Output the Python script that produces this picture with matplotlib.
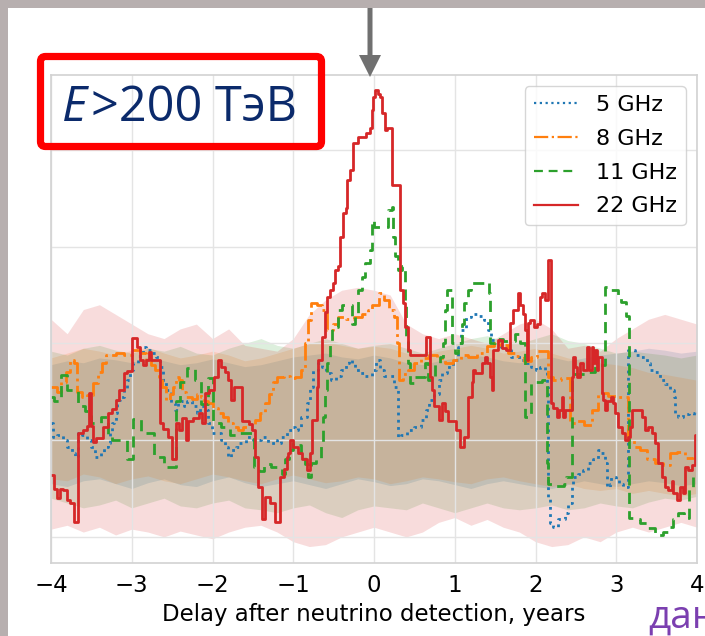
import matplotlib.pyplot as plt
from matplotlib.patches import Rectangle, FancyBboxPatch, FancyArrow
from matplotlib.transforms import Affine2D

# ---- data (delay in years, arbitrary response units) ----
labels = ["5 GHz", "8 GHz", "11 GHz", "22 GHz"]
colors = ["#1f77b4", "#ff7f0e", "#2ca02c", "#d62728"]

x5 = [-4.00, -3.98, -3.93, -3.85, -3.80, -3.74, -3.70, -3.67, -3.62, -3.55,
      -3.50, -3.46, -3.38, -3.34, -3.30, -3.27, -3.24, -3.22, -3.20, -3.18,
      -3.14, -3.10, -3.06, -3.02, -2.98, -2.92, -2.86, -2.82, -2.76, -2.70,
      -2.65, -2.61, -2.57, -2.52, -2.47, -2.43, -2.39, -2.35, -2.31, -2.25,
      -2.19, -2.15, -2.11, -2.07, -2.05, -2.01, -1.95, -1.89, -1.85, -1.81,
      -1.77, -1.71, -1.67, -1.59, -1.50, -1.40, -1.31, -1.23, -1.20, -1.15,
      -1.08, -1.02, -0.98, -0.94, -0.90, -0.83, -0.79, -0.75, -0.69, -0.65,
      -0.59, -0.53, -0.47, -0.41, -0.35, -0.31, -0.27, -0.23, -0.17, -0.11,
      -0.03, 0.03, 0.07, 0.13, 0.21, 0.25, 0.30, 0.33, 0.41, 0.49,
      0.58, 0.64, 0.68, 0.74, 0.80, 0.84, 0.90, 0.98, 1.04, 1.08,
      1.14, 1.20, 1.25, 1.30, 1.36, 1.41, 1.45, 1.51, 1.57, 1.63,
      1.70, 1.76, 1.82, 1.88, 1.94, 2.00, 2.06, 2.12, 2.14, 2.16,
      2.18, 2.22, 2.28, 2.36, 2.40, 2.45, 2.47, 2.53, 2.59, 2.65,
      2.71, 2.77, 2.81, 2.86, 2.88, 2.92, 2.94, 3.00, 3.04, 3.08,
      3.14, 3.15, 3.19, 3.23, 3.29, 3.38, 3.42, 3.48, 3.54, 3.60,
      3.67, 3.71, 3.73, 3.77, 3.83, 3.90, 3.96, 4.00]
y5 = [1.18, 1.03, 1.05, 1.00, 0.93, 0.87, 0.83, 1.07, 1.05, 1.00,
      0.93, 0.83, 0.88, 0.93, 0.97, 1.07, 1.18, 1.20, 1.28, 1.42,
      1.45, 1.52, 1.62, 1.73, 1.80, 1.87, 1.96, 1.93, 1.90, 1.86,
      1.76, 1.62, 1.52, 1.38, 1.31, 1.38, 1.40, 1.35, 1.40, 1.35,
      1.28, 1.35, 1.38, 1.31, 1.18, 1.07, 1.07, 1.00, 0.93, 0.83,
      0.90, 0.93, 0.97, 1.03, 1.00, 1.03, 0.97, 1.00, 0.97, 1.03,
      1.10, 1.14, 1.10, 1.14, 1.24, 1.38, 1.55, 1.73, 1.80, 1.76,
      1.69, 1.62, 1.66, 1.73, 1.80, 1.83, 1.80, 1.73, 1.69, 1.66,
      1.73, 1.83, 1.73, 1.66, 1.66, 1.55, 1.03, 1.05, 1.10, 1.14,
      1.21, 1.31, 1.41, 1.48, 1.62, 1.69, 1.76, 1.83, 1.96, 2.14,
      2.27, 2.30, 2.30, 2.28, 2.24, 2.14, 2.04, 2.02, 1.96, 1.93,
      1.86, 1.86, 1.83, 1.80, 1.76, 1.73, 1.76, 1.73, 1.55, 0.41,
      0.14, 0.10, 0.18, 0.25, 0.35, 0.52, 0.62, 0.65, 0.69, 0.76,
      0.80, 0.90, 0.87, 0.76, 0.52, 0.55, 0.62, 0.60, 0.55, 0.52,
      0.52, 1.93, 1.93, 1.88, 1.86, 1.80, 1.73, 1.70, 1.62, 1.58,
      1.52, 1.45, 1.28, 1.24, 1.27, 1.28, 1.26, 1.29]

x8 = [-4.00, -3.93, -3.88, -3.82, -3.77, -3.72, -3.68, -3.62, -3.55, -3.48,
      -3.42, -3.37, -3.32, -3.20, -3.10, -3.00, -2.90, -2.82, -2.76, -2.71,
      -2.66, -2.62, -2.58, -2.53, -2.49, -2.45, -2.42, -2.38, -2.33, -2.26,
      -2.19, -2.14, -2.10, -2.05, -1.99, -1.93, -1.87, -1.81, -1.74, -1.68,
      -1.62, -1.55, -1.47, -1.41, -1.35, -1.30, -1.25, -1.20, -1.12, -1.04,
      -0.98, -0.90, -0.86, -0.82, -0.78, -0.70, -0.64, -0.58, -0.51, -0.45,
      -0.35, -0.25, -0.15, -0.08, -0.03, 0.06, 0.12, 0.18, 0.25, 0.29,
      0.31, 0.36, 0.42, 0.50, 0.58, 0.68, 0.78, 0.88, 0.98, 1.08,
      1.16, 1.28, 1.40, 1.48, 1.56, 1.66, 1.76, 1.86, 1.95, 2.02,
      2.12, 2.16, 2.22, 2.32, 2.43, 2.52, 2.60, 2.70, 2.78, 2.90,
      3.02, 3.14, 3.22, 3.30, 3.38, 3.48, 3.58, 3.66, 3.75, 3.85,
      3.95]
y8 = [1.55, 1.50, 1.60, 1.70, 1.83, 1.80, 1.50, 1.45, 1.47, 1.59,
      1.70, 1.80, 1.88, 1.90, 1.88, 1.93, 1.90, 1.83, 1.78, 1.73,
      1.65, 1.55, 1.42, 1.48, 1.55, 1.65, 1.62, 1.50, 1.45, 1.43,
      1.48, 1.45, 1.40, 1.38, 1.33, 1.28, 1.24, 1.18, 1.14, 1.10,
      1.14, 1.17, 1.21, 1.28, 1.38, 1.48, 1.60, 1.65, 1.66, 1.64,
      1.65, 1.73, 2.00, 2.24, 2.42, 2.40, 2.35, 2.14, 2.20, 2.27,
      2.25, 2.27, 2.30, 2.35, 2.40, 2.52, 2.45, 2.35, 2.27, 2.00,
      1.62, 1.68, 1.73, 1.80, 1.85, 1.88, 1.85, 1.80, 1.83, 1.88,
      1.86, 1.90, 1.97, 2.00, 1.98, 1.90, 1.87, 1.82, 1.86, 1.92,
      1.92, 1.65, 1.62, 1.64, 1.18, 1.20, 1.16, 1.31, 1.49, 1.46,
      1.45, 1.00, 0.93, 0.90, 0.80, 0.76, 0.74, 0.87, 0.88, 0.82,
      0.83]

x11 = [-4.00, -3.96, -3.88, -3.80, -3.67, -3.58, -3.50, -3.38, -3.30, -3.24,
       -3.08, -3.06, -2.99, -2.88, -2.72, -2.60, -2.45, -2.40, -2.32, -2.22,
       -2.14, -2.06, -2.00, -1.90, -1.78, -1.66, -1.48, -1.42, -1.36, -1.28,
       -1.20, -1.14, -1.10, -1.05, -1.00, -0.94, -0.90, -0.86, -0.82, -0.78,
       -0.72, -0.66, -0.63, -0.61, -0.58, -0.55, -0.52, -0.45, -0.40, -0.27,
       -0.24, -0.20, -0.15, -0.11, -0.05, -0.03, 0.00, 0.17, 0.22, 0.24,
       0.26, 0.30, 0.35, 0.38, 0.40, 0.42, 0.45, 0.50, 0.63, 0.67,
       0.75, 0.82, 0.86, 0.88, 0.90, 0.96, 1.00, 1.04, 1.09, 1.12,
       1.16, 1.20, 1.40, 1.42, 1.44, 1.50, 1.60, 1.75, 1.81, 1.87,
       1.94, 2.08, 2.14, 2.16, 2.25, 2.35, 2.38, 2.45, 2.62, 2.74,
       2.86, 2.93, 3.02, 3.06, 3.12, 3.16, 3.22, 3.30, 3.38, 3.48,
       3.58, 3.66, 3.70, 3.76, 3.84, 3.90, 3.95]
y11 = [1.45, 1.40, 1.67, 1.52, 1.35, 1.30, 1.18, 1.24, 1.05, 1.00,
       1.00, 0.80, 1.22, 1.07, 0.83, 0.72, 1.40, 1.60, 1.75, 1.62,
       1.37, 1.64, 1.18, 1.14, 1.05, 1.07, 0.72, 0.68, 0.75, 0.72,
       0.70, 0.65, 0.80, 0.90, 0.97, 0.95, 0.85, 0.75, 0.62, 0.76,
       0.80, 0.97, 1.24, 1.52, 1.80, 2.00, 2.17, 2.35, 2.40, 2.20,
       2.30, 2.55, 2.69, 2.83, 2.97, 3.28, 3.20, 3.38, 3.41, 3.10,
       2.90, 2.76, 2.80, 2.42, 2.07, 1.80, 1.59, 1.65, 1.80, 1.62,
       1.80, 1.86, 2.00, 2.35, 2.55, 2.00, 1.90, 2.00, 2.20, 2.42,
       2.55, 2.62, 2.64, 2.52, 2.00, 2.05, 2.03, 2.10, 2.00, 1.24,
       1.60, 1.62, 0.76, 0.55, 0.53, 0.55, 0.62, 1.68, 1.70, 1.78,
       2.58, 2.55, 2.50, 2.43, 2.28, 0.20, 0.18, 0.14, 0.09, 0.02,
       0.05, 0.10, 0.18, 0.25, 0.20, 0.50, 0.62]

x22 = [-4.00, -3.96, -3.93, -3.89, -3.85, -3.80, -3.76, -3.71, -3.66, -3.60,
       -3.55, -3.53, -3.51, -3.48, -3.44, -3.35, -3.30, -3.24, -3.20, -3.16,
       -3.10, -3.06, -3.00, -2.93, -2.90, -2.86, -2.82, -2.79, -2.76, -2.65,
       -2.61, -2.55, -2.50, -2.45, -2.42, -2.38, -2.33, -2.30, -2.24, -2.17,
       -2.13, -2.09, -2.04, -1.98, -1.93, -1.89, -1.85, -1.81, -1.77, -1.73,
       -1.64, -1.55, -1.51, -1.47, -1.44, -1.39, -1.35, -1.29, -1.23, -1.16,
       -1.12, -1.08, -1.06, -1.04, -1.00, -0.94, -0.89, -0.83, -0.79, -0.77,
       -0.71, -0.69, -0.64, -0.61, -0.58, -0.55, -0.51, -0.48, -0.45, -0.42,
       -0.38, -0.35, -0.33, -0.30, -0.26, -0.20, -0.10, -0.05, -0.02, -0.01,
       0.01, 0.05, 0.07, 0.10, 0.14, 0.16, 0.22, 0.32, 0.36, 0.38,
       0.42, 0.45, 0.65, 0.69, 0.72, 0.74, 0.80, 0.84, 0.88, 0.92,
       1.02, 1.07, 1.12, 1.16, 1.21, 1.23, 1.25, 1.34, 1.37, 1.40,
       1.44, 1.46, 1.47, 1.54, 1.58, 1.63, 1.68, 1.72, 1.78, 1.81,
       1.85, 1.87, 1.89, 1.91, 1.93, 1.98, 2.02, 2.06, 2.08, 2.12,
       2.15, 2.19, 2.22, 2.27, 2.29, 2.33, 2.34, 2.36, 2.45, 2.46,
       2.49, 2.52, 2.55, 2.59, 2.64, 2.66, 2.70, 2.71, 2.74, 2.76,
       2.77, 2.82, 2.84, 2.86, 2.88, 2.93, 2.96, 2.98, 3.02, 3.07,
       3.11, 3.15, 3.17, 3.20, 3.32, 3.36, 3.39, 3.44, 3.48, 3.52,
       3.57, 3.60, 3.64, 3.69, 3.70, 3.75, 3.79, 3.83, 3.85, 3.89,
       3.94, 3.98, 4.00]
y22 = [0.64, 0.49, 0.40, 0.50, 0.48, 0.38, 0.35, 0.15, 1.07, 1.10,
       1.15, 1.49, 1.15, 0.98, 1.02, 1.14, 1.28, 1.32, 1.42, 1.52,
       1.69, 1.72, 2.06, 1.96, 1.83, 1.78, 1.83, 1.91, 1.83, 1.18,
       1.12, 1.03, 0.80, 1.18, 1.10, 1.23, 1.00, 1.20, 1.23, 1.28,
       1.18, 1.49, 1.52, 1.65, 1.83, 1.76, 1.70, 1.62, 1.42, 1.55,
       1.20, 1.17, 1.10, 0.83, 0.52, 0.18, 0.41, 0.35, 0.15, 0.62,
       0.70, 0.83, 0.87, 1.00, 0.93, 0.87, 0.80, 0.69, 0.87, 1.21,
       1.55, 1.83, 2.07, 2.32, 2.48, 2.55, 2.62, 2.76, 2.80, 3.10,
       3.35, 3.40, 3.69, 3.79, 4.07, 4.13, 4.18, 4.23, 4.41, 4.55,
       4.62, 4.58, 4.55, 4.38, 4.21, 4.23, 3.64, 2.55, 2.42, 2.17,
       1.93, 1.88, 2.07, 1.65, 1.52, 1.35, 1.21, 1.38, 1.30, 1.20,
       1.10, 0.93, 1.03, 1.45, 1.60, 1.73, 1.69, 1.80, 1.86, 1.80,
       1.65, 1.52, 1.93, 2.04, 1.95, 1.93, 2.21, 2.35, 2.52, 2.40,
       2.30, 2.14, 1.83, 2.21, 2.24, 2.17, 2.20, 2.48, 2.52, 2.45,
       2.86, 1.38, 1.33, 1.24, 1.31, 1.45, 1.24, 1.31, 1.65, 1.86,
       1.76, 1.65, 1.80, 1.73, 1.96, 1.73, 1.96, 1.80, 1.93, 1.73,
       1.86, 1.49, 1.42, 1.31, 1.40, 1.45, 1.38, 1.28, 1.14, 1.07,
       1.00, 1.03, 1.14, 1.31, 1.24, 1.10, 1.14, 1.07, 0.97, 0.76,
       0.62, 0.52, 0.48, 0.58, 0.45, 0.38, 0.52, 0.45, 0.72, 0.69,
       0.74, 1.05, 1.05]

# uncertainty bands, sampled every 0.2 yr
band_x = [-4.0, -3.8, -3.6, -3.4, -3.2, -3.0, -2.8, -2.6, -2.4, -2.2,
          -2.0, -1.8, -1.6, -1.4, -1.2, -1.0, -0.8, -0.6, -0.4, -0.2,
          0.0, 0.2, 0.4, 0.6, 0.8, 1.0, 1.2, 1.4, 1.6, 1.8,
          2.0, 2.2, 2.4, 2.6, 2.8, 3.0, 3.2, 3.4, 3.6, 3.8, 4.0]
lo5 = [0.55, 0.52, 0.58, 0.60, 0.55, 0.50, 0.56, 0.60, 0.54, 0.52,
       0.58, 0.62, 0.56, 0.52, 0.55, 0.58, 0.54, 0.50, 0.55, 0.60,
       0.57, 0.53, 0.55, 0.60, 0.58, 0.54, 0.50, 0.55, 0.58, 0.55,
       0.52, 0.50, 0.54, 0.58, 0.55, 0.52, 0.55, 0.58, 0.56, 0.53, 0.55]
hi5 = [1.78, 1.82, 1.80, 1.85, 1.83, 1.80, 1.86, 1.82, 1.78, 1.80,
       1.84, 1.80, 1.76, 1.78, 1.82, 1.86, 1.88, 1.90, 1.86, 1.84,
       1.88, 1.85, 1.80, 1.78, 1.82, 1.85, 1.88, 1.86, 1.82, 1.80,
       1.84, 1.86, 1.82, 1.85, 1.88, 1.90, 1.92, 1.95, 1.93, 1.90, 1.92]
lo8 = [0.60, 0.58, 0.65, 0.62, 0.55, 0.60, 0.63, 0.58, 0.55, 0.60,
       0.65, 0.62, 0.58, 0.55, 0.60, 0.64, 0.60, 0.56, 0.58, 0.62,
       0.60, 0.55, 0.58, 0.62, 0.60, 0.57, 0.55, 0.60, 0.62, 0.58,
       0.55, 0.52, 0.55, 0.50, 0.48, 0.50, 0.45, 0.48, 0.45, 0.42, 0.45]
hi8 = [1.85, 1.90, 1.95, 1.92, 1.88, 1.93, 1.96, 1.90, 1.85, 1.88,
       1.92, 1.88, 1.82, 1.85, 1.90, 1.95, 2.00, 2.02, 1.98, 1.95,
       1.97, 1.95, 1.90, 1.88, 1.92, 1.95, 1.98, 1.95, 1.90, 1.92,
       1.95, 1.90, 1.85, 1.82, 1.80, 1.78, 1.75, 1.70, 1.68, 1.65, 1.62]
lo11 = [0.40, 0.35, 0.30, 0.33, 0.38, 0.30, 0.35, 0.40, 0.32, 0.30,
        0.35, 0.38, 0.30, 0.28, 0.25, 0.30, 0.33, 0.25, 0.20, 0.28,
        0.32, 0.30, 0.28, 0.35, 0.30, 0.25, 0.30, 0.35, 0.30, 0.28,
        0.30, 0.33, 0.28, 0.30, 0.35, 0.32, 0.30, 0.36, 0.40, 0.38, 0.42]
hi11 = [1.92, 1.88, 1.95, 1.98, 1.93, 1.90, 1.95, 1.92, 1.97, 1.90,
        1.88, 1.95, 2.00, 2.05, 1.98, 1.95, 2.00, 2.05, 2.00, 1.95,
        1.98, 2.00, 1.95, 1.90, 1.95, 2.00, 2.05, 2.08, 2.03, 2.00,
        2.05, 2.10, 2.03, 2.00, 1.95, 1.90, 1.92, 1.90, 1.88, 1.85, 1.88]
lo22 = [0.08, 0.12, 0.05, 0.10, 0.02, 0.08, 0.05, 0.00, 0.06, 0.02,
        -0.02, 0.05, 0.10, 0.12, 0.05, -0.05, -0.10, -0.08, 0.00, 0.05,
        0.10, 0.05, 0.00, 0.05, 0.15, 0.20, 0.12, 0.18, 0.10, 0.05,
        -0.05, -0.10, -0.08, 0.00, -0.05, 0.05, 0.10, 0.05, 0.10, 0.15, 0.10]
hi22 = [2.25, 2.10, 2.35, 2.40, 2.30, 2.20, 2.10, 2.05, 2.15, 2.20,
        2.05, 2.15, 1.98, 1.95, 1.92, 2.05, 2.30, 2.45, 2.55, 2.58,
        2.55, 2.50, 2.20, 2.10, 2.05, 2.10, 2.05, 2.00, 2.10, 2.20,
        2.25, 2.15, 1.95, 1.98, 1.92, 2.05, 2.15, 2.25, 2.30, 2.25, 2.20]

xticks = [-4, -3, -2, -1, 0, 1, 2, 3, 4]

W, H = 705, 636
fig = plt.figure(figsize=(W / 100, H / 100), dpi=100)
fig.patch.set_facecolor("#b7afaf")
# pixel coordinates measured from the top-left corner
pix = Affine2D().scale(1 / W, -1 / H).translate(0, 1) + fig.transFigure
fig.add_artist(Rectangle((8, 8), W, H, transform=pix, facecolor="white",
                         edgecolor="none", zorder=0))

ax = fig.add_axes([51 / W, 1 - 563 / H, 646 / W, 488 / H])
ax.set_facecolor("white")

bands = [(lo5, hi5), (lo8, hi8), (lo11, hi11), (lo22, hi22)]
for (lo, hi), c in zip(bands, colors):
    ax.fill_between(band_x, lo, hi, color=c, alpha=0.16, linewidth=0)

series = [(x5, y5, (0, (1, 1.6))), (x8, y8, "-."), (x11, y11, (0, (4, 2.6))), (x22, y22, "-")]
for (xs, ys, ls), c, lab in zip(series, colors, labels):
    ax.plot(xs, ys, drawstyle="steps-post", linestyle=ls, color=c, lw=2.0, label=lab)

ax.set_xlim(-4, 4)
ax.set_ylim(-0.27, 4.775)
ax.set_xticks(xticks)
ax.set_xticklabels([str(t).replace("-", "\u2212") for t in xticks])
ax.set_yticks([0, 1, 2, 3, 4])
ax.set_yticklabels([])
ax.tick_params(length=0, labelsize=16.5, pad=8)
ax.grid(True, color="#e4e4e4", lw=1.0)
for s in ax.spines.values():
    s.set_color("#d2d2d2")
    s.set_linewidth(1.2)
ax.set_xlabel("Delay after neutrino detection, years", fontsize=16.5, labelpad=4)

leg = ax.legend(loc="upper right", fontsize=16, frameon=True, fancybox=True,
                borderaxespad=0.5, handlelength=2.0, labelspacing=0.62)
leg.get_frame().set_edgecolor("#cccccc")
for h in leg.get_lines():
    h.set_linewidth(1.6)

# red frame with the energy label
fig.add_artist(FancyBboxPatch((40.5, 56.5), 281, 90, boxstyle="round,pad=0,rounding_size=5",
                              transform=pix, facecolor="none", edgecolor="#ff0000", lw=5.2, zorder=5))
t1 = fig.text(62 / W, 1 - 121 / H, "E", style="italic", fontsize=35, color="#0b2a6b",
              family=["Open Sans", "DejaVu Sans"], zorder=6)
ax.annotate(">200 ТэВ", xy=(1, 0), xycoords=t1, xytext=(2.5, 0), textcoords="offset points",
            va="bottom", ha="left", fontsize=35,
            color="#0b2a6b", family=["Open Sans", "DejaVu Sans"], annotation_clip=False)

# grey arrow marking the neutrino arrival
fig.add_artist(FancyArrow(370, 8, 0, 69, width=5, head_width=22, head_length=22,
                          length_includes_head=True, transform=pix,
                          facecolor="#707070", edgecolor="none", zorder=6))

# slide text peeking in at the bottom right
fig.text(648 / W, 1 - 628 / H, "дан", fontsize=28, color="#7b3fb0",
         family=["Open Sans", "DejaVu Sans"])

fig.savefig("out.png", dpi=100)
